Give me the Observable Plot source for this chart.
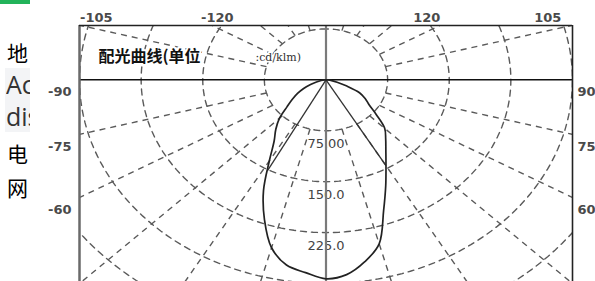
<!DOCTYPE html>
<html><head><meta charset="utf-8">
<script src="https://cdn.jsdelivr.net/npm/d3@7"></script>
<script src="https://cdn.jsdelivr.net/npm/@observablehq/plot@0.6"></script>
<style>
body{margin:0;background:#fff;width:595px;height:281px;overflow:hidden;position:relative;font-family:"DejaVu Sans",sans-serif}
#chart{position:absolute;left:0;top:0}
#side{position:absolute;left:0;top:0;width:30px;height:281px;background:#fff;overflow:hidden;z-index:2}
#bar{position:absolute;left:0;top:0;width:30px;height:4px;background:#22b35a}
.cjk{position:absolute;left:7px;font-family:"Noto Sans CJK SC";font-size:21px;line-height:21px;color:#000;font-weight:400}
#box{position:absolute;left:5px;top:68px;width:40px;height:64px;background:#f3f4f6}
.lat{position:absolute;left:1px;height:26px;overflow:hidden;font-family:"Open Sans",sans-serif;font-size:25px;line-height:26px;color:#333;white-space:nowrap}
g[aria-label="side-labels-left"] text, g[aria-label="side-labels-right"] text{letter-spacing:1.5px}
g[aria-label="top-labels"] text{letter-spacing:2px}
g[aria-label="ring-labels"] text{letter-spacing:3px}
</style></head><body>
<div id="chart"></div>
<div id="side">
 <div id="bar"></div>
 <div class="cjk" style="top:42px">地</div>
 <div id="box"><div class="lat" style="top:3px">Ac</div><div class="lat" style="top:35px">dis</div></div>
 <div class="cjk" style="top:143px">电</div>
 <div class="cjk" style="top:177px">网</div>
</div>
<script>
// ---- data ----
const angles = [-90,-85,-80,-75,-70,-65,-60,-55,-50,-45,-40,-35,-30,-25,-20,-15,-10,-5,0,5,10,15,20,25,30,35,40,45,50,55,60,65,70,75,80,85,90];
const intensity = [0,2,6,12,20,30,40,50,62,80,95,110,138,180,219,256,277,285,293,288,272,250,205,172,146,127,113,101,80,64,55,45,27,14,7,3,0];
const beamAngles = [-28, 30];
const beamValues = [152, 146];
const rings = [75,150,225,300,375,450];
const ringLabelValues = [75,150,225];
const ringLabelTexts = ["75.00","150.0","225.0"];
const spokeAngles = [-165,-150,-135,-120,-105,-75,-60,-45,-30,-15,15,30,45,60,75,105,120,135,150,165];
const sideAngles = [-90,-75,-60,60,75,90];
const topAngles = [-105,-120,120,105];
const titleMain = "配光曲线(单位";
const titleUnit = ":cd/klm)";

// ---- geometry helpers (polar -> plane, 0° pointing down) ----
const rad = d => d*Math.PI/180;
const px = (a,r) => r*Math.sin(rad(a));
const py = (a,r) => -r*Math.cos(rad(a));
const XMAX = 300, YTOP = 80;

const curve = angles.map((a,i)=>({x:px(a,intensity[i]), y:py(a,intensity[i])}));
const ringPts = rings.flatMap(r => d3.range(-180,181,2).map(a => ({r, x:px(a,r), y:py(a,r)})));
const spokes = spokeAngles.map(a => ({x1:px(a,75), y1:py(a,75), x2:px(a,800), y2:py(a,800)}));
const beam = beamAngles.map((a,i)=>({x2:px(a,beamValues[i]), y2:py(a,beamValues[i])}));
const ringLabels = ringLabelValues.map((r,i)=>({y:-r, t:ringLabelTexts[i]}));
const sideLab = sideAngles.map(a => {const t = XMAX/Math.abs(Math.sin(rad(a))); return {a, x:Math.sign(a)*XMAX, y:-t*Math.cos(rad(a))};});
const topLab = topAngles.map(a => {const t = YTOP/(-Math.cos(rad(a))); return {a, x:0.92*t*Math.sin(rad(a)), y:YTOP};});

const dash = {stroke:"#5a5a5a", strokeWidth:1.4, strokeDasharray:"6,5", clip:true};
const lab = {fontSize:13, fill:"#4a4a4a", fontFamily:"DejaVu Sans", fontWeight:"bold"};

const svg = Plot.plot({
  width:595, height:281,
  marginLeft:79, marginRight:23, marginTop:25, marginBottom:0,
  x:{domain:[-XMAX, XMAX], axis:null},
  y:{domain:[-297, YTOP], axis:null},
  style:{background:"#fff", overflow:"visible"},
  marks:[
    Plot.line(ringPts, {x:"x", y:"y", z:"r", ...dash}),
    Plot.link(spokes, {x1:"x1", y1:"y1", x2:"x2", y2:"y2", ...dash}),
    Plot.text(ringLabels, {x:d=>0, y:"y", text:"t", dy:13, ...lab, fontWeight:"normal", fill:"#444", ariaLabel:"ring-labels"}),
    Plot.ruleY([0], {stroke:"#111", strokeWidth:1.6}),
    Plot.ruleX([0], {stroke:"#7a7a7a", strokeWidth:2.2}),
    Plot.ruleX([-XMAX], {stroke:"#6a6a6a", strokeWidth:2.5}),
    Plot.ruleX([XMAX], {stroke:"#222", strokeWidth:1.6}),
    Plot.ruleY([YTOP], {stroke:"#222", strokeWidth:1.6}),
    Plot.link(beam, {x1:d=>0, y1:d=>0, x2:"x2", y2:"y2", stroke:"#333", strokeWidth:1.3}),
    Plot.line(curve, {x:"x", y:"y", stroke:"#222", strokeWidth:1.7, curve:"catmull-rom"}),
    Plot.text([titleMain], {frameAnchor:"top-left", dx:19, dy:31, textAnchor:"start", lineAnchor:"middle", fontSize:16, fontWeight:"bold", fill:"#111", stroke:"#fff", strokeWidth:4, fontFamily:"Noto Sans CJK SC", ariaLabel:"title-main"}),
    Plot.text([titleUnit], {frameAnchor:"top-left", dx:176, dy:32, textAnchor:"start", lineAnchor:"middle", fontSize:11, fill:"#333", stroke:"#fff", strokeWidth:3, fontFamily:"DejaVu Serif", ariaLabel:"title-unit"}),
    Plot.text(sideLab.filter(d=>d.a<0), {x:"x", y:"y", text:d=>String(d.a), dx:-8, dy:12, textAnchor:"end", ...lab, ariaLabel:"side-labels-left"}),
    Plot.text(sideLab.filter(d=>d.a>0), {x:"x", y:"y", text:d=>String(d.a), dx:5, dy:12, textAnchor:"start", ...lab, ariaLabel:"side-labels-right"}),
    Plot.text(topLab, {x:"x", y:"y", text:d=>String(d.a), dx:-4, dy:-8, textAnchor:"middle", ...lab, ariaLabel:"top-labels"})
  ]
});
document.getElementById("chart").appendChild(svg);
d3.select(svg).select('g[aria-label="title-main"] text').attr("textLength",155).attr("lengthAdjust","spacingAndGlyphs");
d3.select(svg).select('g[aria-label="title-unit"] text').attr("textLength",80).attr("lengthAdjust","spacing");
</script>
</body></html>
